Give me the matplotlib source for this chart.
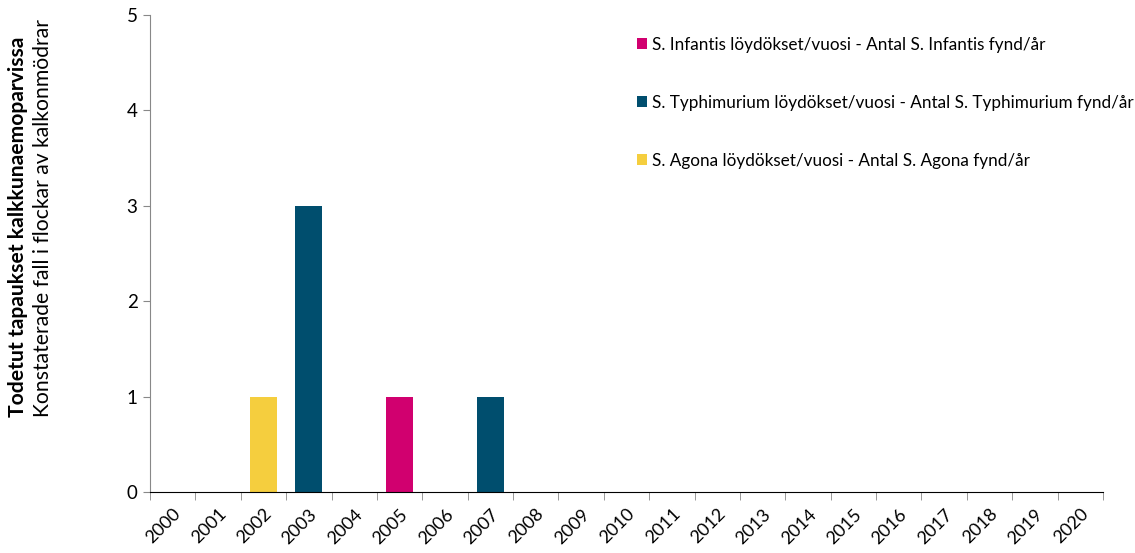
import matplotlib
matplotlib.use("Agg")
import matplotlib.pyplot as plt
import numpy as np

years = [str(y) for y in range(2000, 2021)]
infantis = [0, 0, 0, 0, 0, 1, 0, 0, 0, 0, 0, 0, 0, 0, 0, 0, 0, 0, 0, 0, 0]
typhimurium = [0, 0, 0, 3, 0, 0, 0, 1, 0, 0, 0, 0, 0, 0, 0, 0, 0, 0, 0, 0, 0]
agona = [0, 0, 1, 0, 0, 0, 0, 0, 0, 0, 0, 0, 0, 0, 0, 0, 0, 0, 0, 0, 0]
labels = ["S. Infantis löydökset/vuosi - Antal S. Infantis fynd/år",
          "S. Typhimurium löydökset/vuosi - Antal S. Typhimurium fynd/år",
          "S. Agona löydökset/vuosi - Antal S. Agona fynd/år"]
colors = ["#D1006F", "#004E6E", "#F5CE3E"]

plt.rcParams['font.family'] = ['Lato', 'DejaVu Sans']

fig = plt.figure(figsize=(11.35, 5.53), dpi=100)
ax = fig.add_axes([150/1135, 1-492/553, (1103-150)/1135, (492-15)/553])

x = np.arange(len(years))
bottom = np.zeros(len(years))
for vals, lab, col in zip([infantis, typhimurium, agona], labels, colors):
    ax.bar(x, vals, width=0.6, bottom=bottom, color=col, label=lab)
    bottom += np.array(vals)

ax.set_xlim(-0.5, len(years) - 0.5)
ax.set_ylim(0, 5)
ax.set_yticks(range(0, 6))
ax.tick_params(axis='y', labelsize=13.5, length=5, color='#888888', pad=4)
ax.set_xticks(x)
ax.set_xticklabels(years, rotation=45, ha='right', rotation_mode='anchor', fontsize=13)
ax.set_xticks(np.arange(-0.5, len(years), 1), minor=True)
ax.tick_params(axis='x', which='major', length=0, pad=10)
ax.tick_params(axis='x', which='minor', length=6, color='#888888')

for s in ['top', 'right']:
    ax.spines[s].set_visible(False)
ax.spines['left'].set_color('#888888')
ax.spines['bottom'].set_color('black')

leg = ax.legend(loc='upper left', bbox_to_anchor=((630-150)/953, 1-(30-15)/477),
                frameon=False, fontsize=12.3, handlelength=0.6, handleheight=0.6,
                handletextpad=0.3, labelspacing=2.45, borderaxespad=0)

fig.text(18/1135, 1-417/553, "Todetut tapaukset kalkkunaemoparvissa", rotation=90,
         fontsize=15.2, fontweight='bold', ha='center', va='bottom')
fig.text(43/1135, 1-417/553, "Konstaterade fall i flockar av kalkonmödrar", rotation=90,
         fontsize=15.2, ha='center', va='bottom')

fig.savefig("out.png", dpi=100)
